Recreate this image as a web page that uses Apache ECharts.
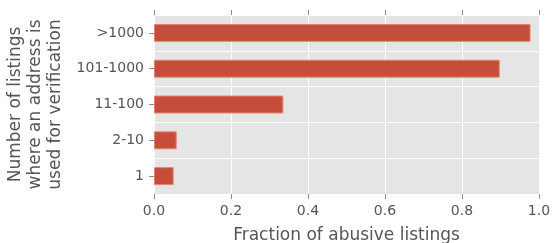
<html>
<head>
	<meta http-equiv="Content-Type" content="text/html; charset=UTF-8">
	<title>charts</title>
	<style>
		html, body { margin: 0; padding: 0; background: #fff; }
	</style>
</head>
	<body>
		<div id="chart" style="height: 243px; width: 555px"></div>

        <script type="text/javascript" src="https://cdn.jsdelivr.net/npm/echarts@6/dist/echarts.min.js"></script>
        <script type="text/javascript">

    // data
    var categories = ['1', '2-10', '11-100', '101-1000', '>1000'];
    var fractions = [0.051, 0.059, 0.336, 0.898, 0.978];
    var xTicks = [0, 0.2, 0.4, 0.6, 0.8, 1.0];

    var myChart = echarts.init(document.getElementById('chart'));

    var font = '"DejaVu Sans"';
    var tickStyle = {show: true, length: 5, inside: false, lineStyle: {color: '#8c8c8c', width: 1}};

    var option = {
        backgroundColor: '#ffffff',
        animation: false,
        grid: {left: 154, right: 16, top: 15, bottom: 49, show: true, backgroundColor: '#e5e5e5', borderWidth: 0,
               containLabel: false, outerBoundsMode: 'none'},
        xAxis: [
            {
                type: 'value',
                position: 'bottom',
                min: 0, max: 1, interval: 0.2,
                name: 'Fraction of abusive listings',
                nameLocation: 'middle',
                nameGap: 33,
                nameTextStyle: {fontFamily: font, fontSize: 17, color: '#555555'},
                axisLine: {show: false},
                axisTick: tickStyle,
                axisLabel: {
                    fontFamily: font, fontSize: 14, color: '#555555', margin: 10,
                    formatter: function (v) { return v.toFixed(1); }
                },
                splitLine: {show: true, lineStyle: {color: '#ffffff', width: 1}}
            },
            {
                type: 'value',
                position: 'top',
                min: 0, max: 1, interval: 0.2,
                axisLine: {show: false},
                axisTick: tickStyle,
                axisLabel: {show: false},
                splitLine: {show: false}
            }
        ],
        yAxis: [
            {
                type: 'category',
                position: 'left',
                data: categories,
                name: 'Number of listings\nwhere an address is\nused for verification',
                nameLocation: 'middle',
                nameGap: 81,
                nameRotate: 90,
                nameTextStyle: {fontFamily: font, fontSize: 17, color: '#555555', lineHeight: 20},
                axisLine: {show: false},
                axisTick: {show: true, length: 5, alignWithLabel: true, lineStyle: {color: '#8c8c8c'}},
                axisLabel: {fontFamily: font, fontSize: 14, color: '#555555', margin: 10},
                splitLine: {show: true, interval: 0, lineStyle: {color: '#ffffff', width: 1}}
            },
            {
                type: 'category',
                position: 'right',
                data: categories,
                axisLine: {show: false},
                axisTick: {show: true, length: 5, alignWithLabel: true, lineStyle: {color: '#8c8c8c'}},
                axisLabel: {show: false},
                splitLine: {show: false}
            }
        ],
        series: [
            {
                type: 'bar',
                xAxisIndex: 0,
                yAxisIndex: 0,
                data: fractions,
                barWidth: '50%',
                itemStyle: {color: '#c44e3b', borderColor: '#e8826e', borderWidth: 1}
            }
        ]
    };
    myChart.setOption(option);
	</script>
    </body>
</html>
